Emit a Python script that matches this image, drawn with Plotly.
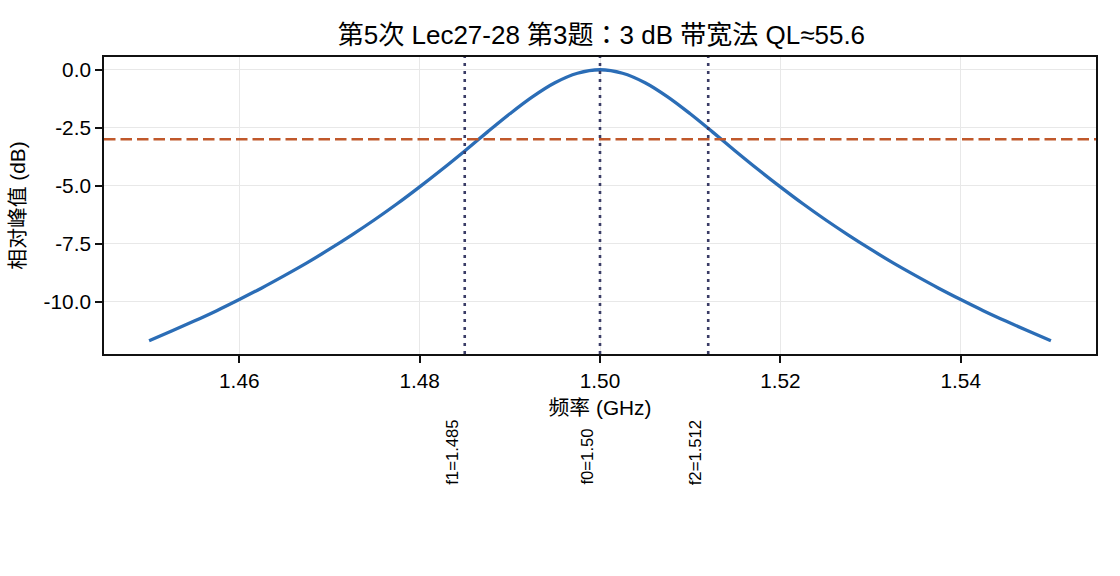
import plotly.graph_objects as go

# Frequency (GHz) and relative level (dB)
freq = [1.4500, 1.4525, 1.4550, 1.4575, 1.4600, 1.4625, 1.4650, 1.4675, 1.4700, 1.4725,
        1.4750, 1.4775, 1.4800, 1.4825, 1.4850, 1.4875, 1.4900, 1.4925, 1.4950, 1.4975,
        1.5000, 1.5025, 1.5050, 1.5075, 1.5100, 1.5125, 1.5150, 1.5175, 1.5200, 1.5225,
        1.5250, 1.5275, 1.5300, 1.5325, 1.5350, 1.5375, 1.5400, 1.5425, 1.5450, 1.5475, 1.5500]
level_db = [-11.69, -11.27, -10.84, -10.39, -9.91, -9.41, -8.88, -8.33, -7.74, -7.12,
            -6.47, -5.78, -5.05, -4.29, -3.50, -2.69, -1.90, -1.17, -0.56, -0.15,
            0.00, -0.15, -0.56, -1.17, -1.90, -2.69, -3.50, -4.29, -5.05, -5.78,
            -6.47, -7.12, -7.74, -8.33, -8.88, -9.41, -9.91, -10.39, -10.84, -11.27, -11.69]

marker_freqs = [1.485, 1.500, 1.512]
marker_labels = ["f1=1.485", "f0=1.50", "f2=1.512"]
ref_level = -3.0

x_ticks = [1.46, 1.48, 1.50, 1.52, 1.54]
x_ticktext = ["1.46", "1.48", "1.50", "1.52", "1.54"]
y_ticks = [0.0, -2.5, -5.0, -7.5, -10.0]
y_ticktext = ["0.0", "-2.5", "-5.0", "-7.5", "-10.0"]

FONT = "Liberation Sans, Arial, Noto Sans CJK SC, sans-serif"
TITLE_FONT = "Liberation Sans, Arial, Noto Sans CJK JP, sans-serif"

fig = go.Figure()
fig.add_trace(go.Scatter(x=freq, y=level_db, mode="lines",
                         line=dict(color="#2b6db6", width=3.3, shape="spline"),
                         showlegend=False))

fig.add_hline(y=ref_level, line=dict(color="#c0582b", width=2.6, dash="11.5px,5px"), layer="above")
for f in marker_freqs:
    fig.add_vline(x=f, line=dict(color="#3a3c66", width=2.6, dash="3px,5px"), layer="above")

for f, lab in zip(marker_freqs, marker_labels):
    fig.add_annotation(x=f, xref="x", y=-0.448, yref="paper", text=lab, textangle=-90,
                       showarrow=False, xanchor="right", yanchor="bottom", xshift=-1,
                       font=dict(family=FONT, size=16.7, color="#000000"))

fig.update_layout(
    width=1120, height=576,
    margin=dict(l=104, r=24, t=57, b=222),
    paper_bgcolor="white", plot_bgcolor="white",
    font=dict(family=FONT, size=20.8, color="#000000"),
    title=dict(text="第5次 Lec27-28 第3题：3 dB 带宽法 QL≈55.6", x=0.537, xanchor="center",
               y=0.939, yanchor="middle", font=dict(size=26, family=TITLE_FONT)),
)
fig.update_xaxes(range=[1.445, 1.555], tickvals=x_ticks, ticktext=x_ticktext,
                 showgrid=True, gridcolor="#e8e8e8", gridwidth=1.3,
                 showline=True, linecolor="#111111", linewidth=1.7, mirror=True,
                 ticks="outside", ticklen=7, tickwidth=1.7, tickcolor="#111111",
                 zeroline=False,
                 title=dict(text="频率 (GHz)", standoff=10, font=dict(size=20.8)))
fig.update_yaxes(range=[-12.26, 0.55], tickvals=y_ticks, ticktext=y_ticktext,
                 showgrid=True, gridcolor="#e8e8e8", gridwidth=1.3,
                 showline=True, linecolor="#111111", linewidth=1.7, mirror=True,
                 ticks="outside", ticklen=7, tickwidth=1.7, tickcolor="#111111",
                 zeroline=False,
                 title=dict(text="相对峰值 (dB)", standoff=12, font=dict(size=20.8)))

fig.write_html("out.html")
